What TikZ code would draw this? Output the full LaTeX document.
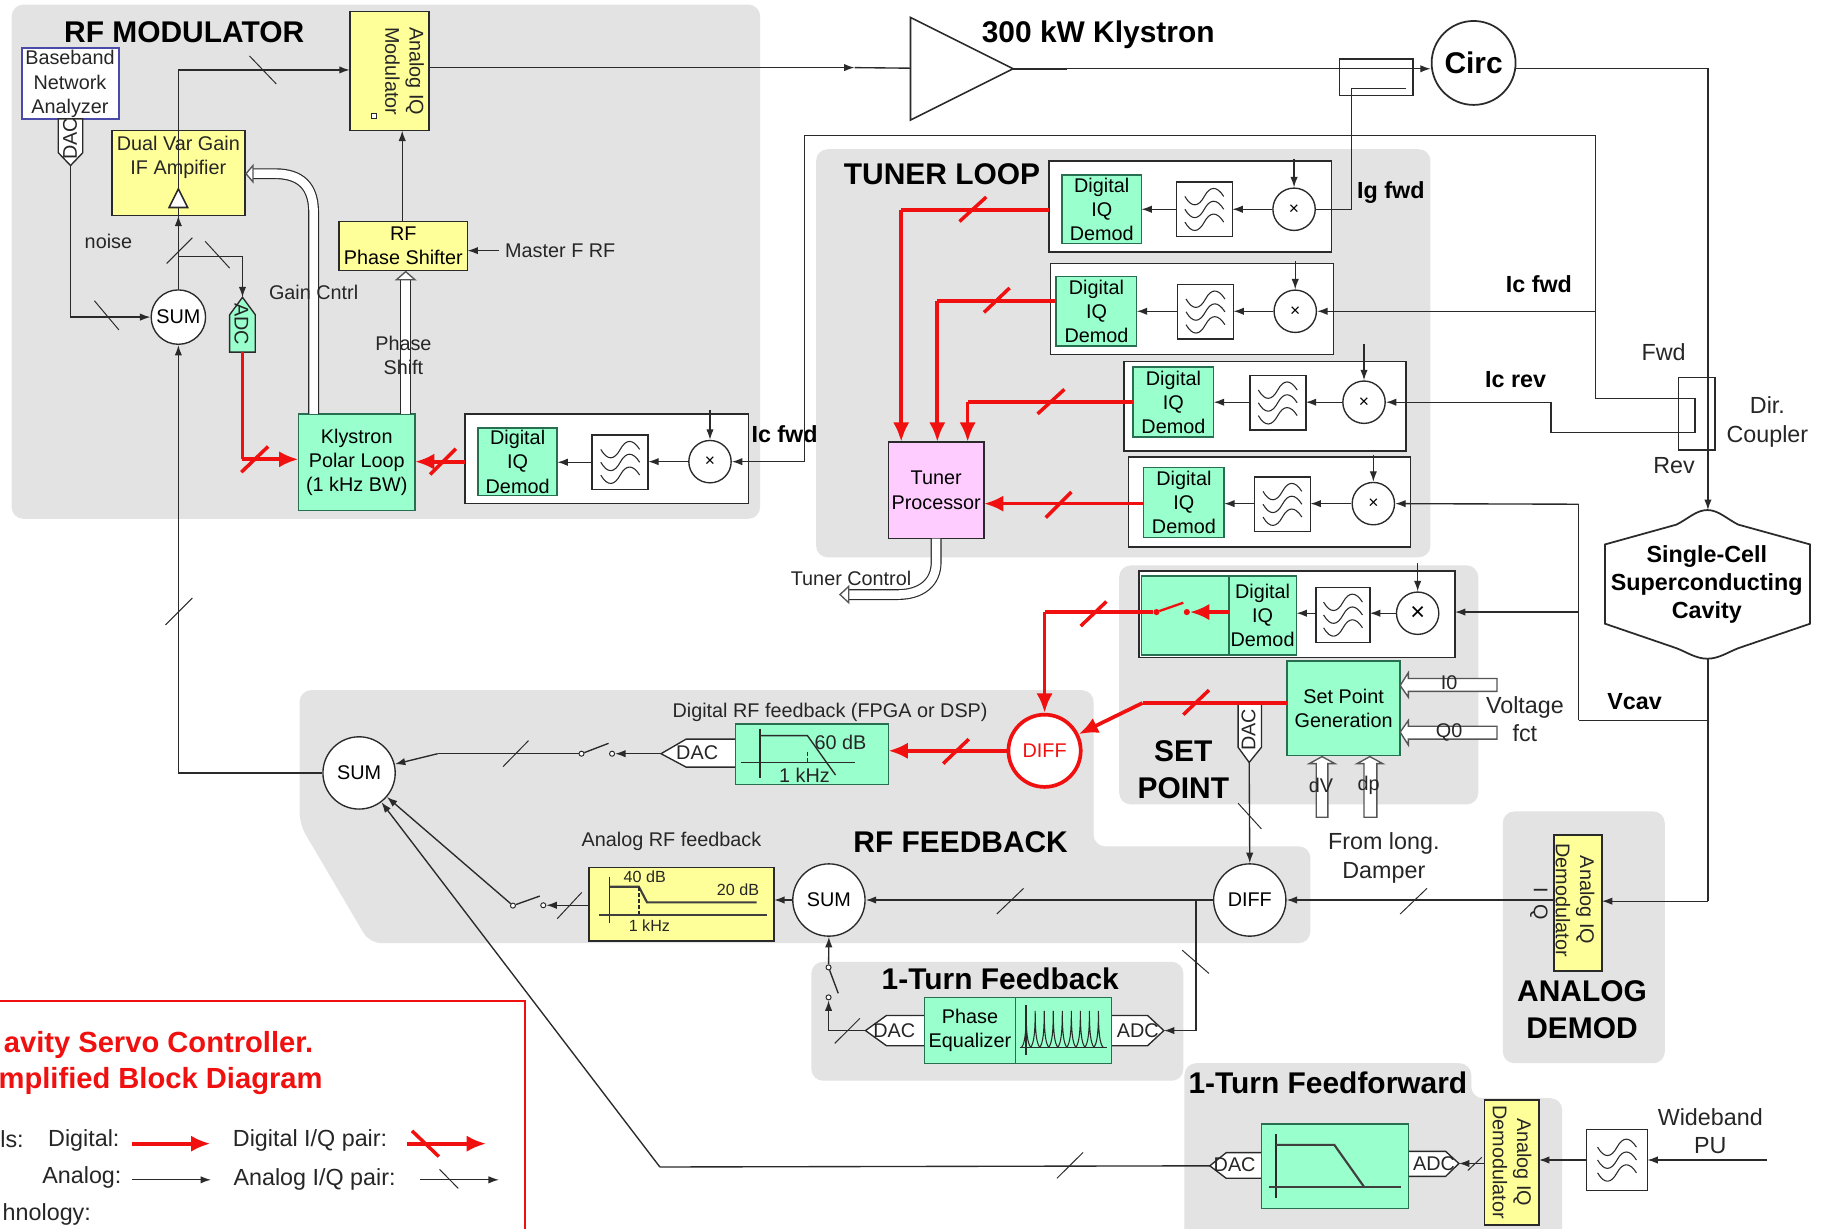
\documentclass[tikz,border=0pt]{standalone}
\usepackage{fontspec}
\setmainfont{Liberation Sans}
\usetikzlibrary{arrows.meta}
\definecolor{lc}{HTML}{2A2A2A}
\definecolor{rgn}{HTML}{E3E3E3}
\definecolor{gbx}{HTML}{99FFCC}
\definecolor{ybx}{HTML}{FFFF99}
\definecolor{pbx}{HTML}{FFCCFF}
\definecolor{rd}{HTML}{F01010}
\definecolor{bbl}{HTML}{4A4AA8}
\newcommand\blockbox[7][]{%
  \pgfmathsetmacro\bbcx{(#3+#5)/2}\pgfmathsetmacro\bbcy{(#4+#6)/2}%
  \pgfmathsetmacro\bbw{(#5-#3)*0.6}\pgfmathsetmacro\bbh{(#6-#4)*0.6}%
  \node[blk,#1,minimum width=\bbw pt,minimum height=\bbh pt] (#2) at (\bbcx,\bbcy) {#7};}
\tikzset{
  region/.style={fill=rgn,draw=none,rounded corners=6pt},
  blk/.style={rectangle,draw=lc,line width=.8pt,inner sep=0pt,outer sep=0pt,align=center,
    font=\fontsize{10.2}{12.5}\selectfont},
  grn/.style={fill=gbx,draw={rgb,255:red,40;green,110;blue,80}},
  yel/.style={fill=ybx},
  whitebox/.style={fill=white},
  txt/.style={inner sep=0pt,align=center,text=black!85,font=\fontsize{10.2}{12.5}\selectfont},
  small/.style={inner sep=0pt,align=center,text=black!85,font=\fontsize{8.3}{10}\selectfont},
  hd/.style={inner sep=0pt,align=center,text=black,font=\fontsize{15.4}{19}\selectfont\bfseries},
  lab/.style={inner sep=0pt,align=center,text=black,font=\fontsize{12}{14.5}\selectfont\bfseries},
  legt/.style={inner sep=0pt,align=center,text=black!85,font=\fontsize{12}{14.5}\selectfont},
  ln/.style={draw=lc,line width=.7pt},
  cn/.style={ln,-{Latex[length=5.4pt,width=3.8pt]}},
  rln/.style={draw=rd,line width=1.9pt},
  rcn/.style={rln,-{Latex[length=10pt,width=8.4pt]}},
  tick/.style={draw=lc,line width=.5pt},
  rtick/.style={draw=rd,line width=1.8pt},
  mix/.style={circle,draw=lc,line width=.7pt,fill=white,inner sep=0pt,minimum size=21.8pt,
    font=\fontsize{9}{9}\selectfont},
  sumc/.style={circle,draw=lc,line width=.7pt,fill=white,inner sep=0pt,minimum size=37.2pt,
    font=\fontsize{10.2}{12}\selectfont},
  swdot/.style={circle,draw=lc,line width=.5pt,fill=white,inner sep=0pt,minimum size=2.6pt},
  filt/.style={blk,fill=white,path picture={
    \begin{scope}[shift={(path picture bounding box.center)}]
    \foreach \wv in {-6.6,0,6.6}{
      \draw[lc,line width=.55pt]
        (-10pt,\wv pt) .. controls +(3.5pt,-6pt) and +(-3pt,-5.5pt) .. (0pt,\wv pt)
        .. controls +(3pt,5.5pt) and +(-3.5pt,5.5pt) .. (10pt,\wv pt);}
    \end{scope}}},
  conv/.style={draw=lc,line width=.7pt,fill=white},
  hollow/.style={draw=lc!80,line width=.7pt,fill=white},
  dbl/.style={draw=lc,line width=.6pt,double=white,double distance=4.4pt},
  graphln/.style={draw=lc,line width=.7pt},
  graphth/.style={draw=lc!90,line width=1.1pt}
}
\begin{document}
\begin{tikzpicture}[x=0.6pt,y=-0.6pt]
\useasboundingbox (0,0) rectangle (1568,1054);
\clip (0,0) rectangle (1568,1054);
\fill[white] (0,0) rectangle (1568,1054);

% ---------- regions
\path[region] (10,4) rectangle (652,445);
\path[region] (700,128) rectangle (1227,478);
\path[region] (960,485) rectangle (1268,690);
\path[region] (257,592) -- (938,592) -- (938,726) -- (1124,726) -- (1124,809) -- (317,809) -- (257,707) -- cycle;
\path[region] (1289,696) rectangle (1428,912);
\path[region] (696,825) rectangle (1015,927);
\path[region] (1016,912) -- (1262,912) -- (1262,942) -- (1340,942) -- (1340,1070) -- (1016,1070) -- cycle;

% ---------- headings
\node[hd] (hMod) at (158,28) {RF MODULATOR};
\node[hd] (hKly) at (942,30) {300 kW Klystron};
\node[hd] (hTun) at (808,149) {TUNER LOOP};
\node[hd] (hSet) at (1015,660) {SET\\POINT};
\node[hd] (hFb) at (824,722) {RF FEEDBACK};
\node[hd] (hDem) at (1357,866) {ANALOG\\DEMOD};
\node[hd] (hOne) at (858,840) {1-Turn Feedback};
\node[hd] (hFf) at (1139,929) {1-Turn Feedforward};

% ---------- RF modulator blocks
\blockbox[yel]{iqmod}{300}{10}{368}{112}{}
\node[txt,rotate=-90] (iqmodt) at (347,61) {Analog IQ\\Modulator};
\draw[lc,line width=.5pt,fill=white] (319,97) rectangle (323,102);
\blockbox[whitebox,draw=bbl]{bna}{19}{41}{102}{102}{}
\node[txt] (bnat) at (60,72) {Baseband\\Network\\Analyzer};
\draw[conv] (50,102) -- (71,102) -- (71,131) -- (60.5,142) -- (50,131) -- cycle;
\node[txt,rotate=90] (dac1t) at (60,119) {DAC};
\coordinate (dac1) at (60.5,142);
\blockbox[yel]{ifamp}{96}{112}{210}{185}{}
\node[txt] (ifampt) at (153,135) {Dual Var Gain\\IF Ampifier};
\node[sumc,minimum size=28pt] (sum1) at (153,272) {SUM};
\draw[draw=lc,line width=.7pt,fill=gbx] (197,302) -- (197,270) -- (208,255) -- (219,270) -- (219,302) -- cycle;
\node[txt,rotate=-90] (adc1t) at (207,278) {ADC};
\coordinate (adc1top) at (208,255);
\coordinate (adc1bot) at (208,302);
\blockbox[yel]{rfps}{291}{190}{401}{232}{RF\\Phase Shifter}
\node[txt,anchor=west] (master) at (433,215) {Master F RF};
\coordinate (masterin) at (428,215);
\blockbox[grn]{polar}{256}{355}{356}{438}{Klystron\\Polar Loop\\(1 kHz BW)}
\blockbox[whitebox]{box0}{399}{355}{642}{432}{}
\blockbox[grn]{dem0}{410}{367}{478}{425}{Digital\\IQ\\Demod}
\blockbox[filt]{fil0}{508}{373}{556}{420}{}
\node[mix] (mix0) at (609,396) {×};
\coordinate (lo0) at (609,352);

% ---------- tuner loop blocks
\blockbox[whitebox]{box1}{900}{138}{1142}{216}{}
\blockbox[grn]{dem1}{911}{150}{979}{209}{Digital\\IQ\\Demod}
\blockbox[filt]{fil1}{1009}{156}{1057}{203}{}
\node[mix] (mix1) at (1110,179.5) {×};
\coordinate (lo1) at (1110,136);
\blockbox[whitebox]{box2}{901}{226}{1144}{304}{}
\blockbox[grn]{dem2}{906}{237}{975}{297}{Digital\\IQ\\Demod}
\blockbox[filt]{fil2}{1010}{244}{1058}{291}{}
\node[mix] (mix2) at (1111,267) {×};
\coordinate (lo2) at (1111,224);
\blockbox[whitebox]{box3}{964}{310}{1206}{387}{}
\blockbox[grn]{dem3}{972}{315}{1041}{375}{Digital\\IQ\\Demod}
\blockbox[filt]{fil3}{1072}{322}{1120}{369}{}
\node[mix] (mix3) at (1170,345) {×};
\coordinate (lo3) at (1170,295);
\blockbox[whitebox]{box4}{968}{392}{1210}{469}{}
\blockbox[grn]{dem4}{981}{401}{1050}{461}{Digital\\IQ\\Demod}
\blockbox[filt]{fil4}{1076}{409}{1124}{456}{}
\node[mix] (mix4) at (1178,432) {×};
\coordinate (lo4) at (1178,390);
\blockbox[fill=pbx]{tuner}{762}{379}{844}{462}{Tuner\\Processor}

% ---------- set point blocks
\blockbox[whitebox]{box5}{977}{490}{1248}{564}{}
\blockbox[grn]{spsw}{979}{494}{1054}{562}{}
\blockbox[grn]{dem5}{1054}{494}{1112}{562}{Digital\\IQ\\Demod}
\blockbox[filt]{fil5}{1129}{504}{1175}{551}{}
\node[mix,font=\fontsize{13}{13}\selectfont] (mix5) at (1216,526) {×};
\coordinate (lo5) at (1216,483);
\blockbox[grn]{spg}{1104}{567}{1201}{648}{Set Point\\Generation}
\draw[conv] (1062,604) -- (1082,604) -- (1082,641) -- (1071.5,654) -- (1062,641) -- cycle;
\node[txt,rotate=90] (dac2t) at (1071,626) {DAC};
\coordinate (dac2) at (1071.5,654);
\draw[hollow] (1201,588) -- (1208,577) -- (1208,582) -- (1284,582) -- (1284,593) -- (1208,593) -- (1208,598) -- cycle;
\draw[hollow] (1201,628) -- (1208,618) -- (1208,623) -- (1284,623) -- (1284,634) -- (1208,634) -- (1208,639) -- cycle;
\draw[hollow] (1134,649) -- (1145,655) -- (1139,655) -- (1139,701) -- (1129,701) -- (1129,655) -- (1123,655) -- cycle;
\draw[hollow] (1175,649) -- (1186,655) -- (1181,655) -- (1181,701) -- (1170,701) -- (1170,655) -- (1164,655) -- cycle;
\node[txt] (i0) at (1243,586) {I0};
\node[txt] (q0) at (1243,628) {Q0};
\node[txt] (dv) at (1133,674) {dV};
\node[txt] (dp) at (1174,674) {dp};

% ---------- feedback blocks
\node[sumc] (sum2) at (308,663) {SUM};
\node[sumc] (sum3) at (711,772) {SUM};
\node[sumc] (diff2) at (1072,772) {DIFF};
\node[sumc,draw=rd,line width=1.9pt,text=rd] (diffr) at (896,644) {DIFF};
\draw[conv] (631,634) -- (588.5,634) -- (567,646.5) -- (588.5,658) -- (631,658);
\node[txt] (dac3t) at (598,646) {DAC};
\coordinate (dac3) at (567,646.5);
\blockbox[grn]{gfb}{631}{621}{762}{673}{}
\draw[graphln] (652,625) -- (652,667.6);
\draw[graphln] (635.7,654) -- (733,654);
\draw[graphln] (652,631) -- (692.6,631) -- (716.7,664.8);
\draw[graphln,dashed,dash pattern=on 2pt off 1pt] (692.6,645) -- (692.6,654);
\node[txt] (db60) at (721,637) {60 dB};
\node[txt] (khz1) at (690,665) {1 kHz};
\node[txt] (dfbt) at (712,611) {Digital RF feedback (FPGA or DSP)};
\node[txt] (afbt) at (576,722) {Analog RF feedback};
\blockbox[yel]{yfb}{505}{744}{664}{807}{}
\draw[graphln] (523,752) -- (523,792);
\draw[graphth] (514,785) -- (657.6,785);
\draw[graphth] (523,760.6) -- (548,760.6) -- (555,774) -- (649,774);
\draw[graphln,dashed,dash pattern=on 2pt off 1pt] (548,761) -- (548,785);
\node[small] (db40) at (553,752) {40 dB};
\node[small] (db20) at (633,763) {20 dB};
\node[small] (khz2) at (557,794) {1 kHz};

% ---------- 1-turn feedback blocks
\draw[conv] (793,871) -- (760.4,871) -- (742.4,884) -- (760.4,897) -- (793,897);
\node[txt] (dac4t) at (767,884) {DAC};
\coordinate (dac4) at (742.4,884);
\draw[conv] (953,871) -- (984.3,871) -- (998.3,884) -- (984.3,897) -- (953,897);
\node[txt] (adc4t) at (976,884) {ADC};
\coordinate (adc4) at (998.3,884);
\blockbox[grn]{peq}{793}{855.5}{871}{912.4}{Phase\\Equalizer}
\blockbox[grn]{comb}{871}{855.5}{953.4}{912.4}{}
\draw[graphln] (880.2,862) -- (880.2,905);
\draw[graphln] (874.6,898.4) -- (949.4,898.4);
\foreach \k in {0,...,8}{
  \pgfmathsetmacro\cx{880.2+7.75*\k}
  \draw[lc,line width=.55pt] (\cx-4,898.4) .. controls (\cx-1,895) and (\cx,885) .. (\cx,867) .. controls (\cx,885) and (\cx+1,895) .. (\cx+4,898.4);
}

% ---------- 1-turn feedforward blocks
\draw[conv] (1082,988.7) -- (1051.8,988.7) -- (1037.7,1000) -- (1051.8,1010.7) -- (1082,1010.7);
\node[txt] (dac5t) at (1059,999) {DAC};
\coordinate (dac5) at (1037.7,1000);
\draw[conv] (1208,987.6) -- (1240,987.6) -- (1251.4,998) -- (1240,1009) -- (1208,1009);
\node[txt] (adc5t) at (1230,998) {ADC};
\coordinate (adc5) at (1251.4,998);
\blockbox[grn]{ffb}{1082}{964}{1208}{1036.5}{}
\draw[graphln] (1094.5,972.7) -- (1094.5,1028);
\draw[graphth] (1088.3,1018) -- (1202,1018);
\draw[graphth] (1094.5,982) -- (1144.5,982) -- (1170,1018);
\blockbox[yel]{iqd2}{1273.3}{943.6}{1320}{1050.8}{}
\node[txt,rotate=-90] (iqd2t) at (1297,997) {Analog IQ\\Demodulator};
\blockbox[filt]{fil6}{1361}{969}{1413}{1021}{}
\node[legt] (wpu) at (1467,970) {Wideband\\PU};
\coordinate (pu) at (1516,995);

% ---------- analog demod
\blockbox[yel]{iqd1}{1333}{716}{1374}{833}{}
\node[txt,rotate=-90] (iqd1t) at (1351,772) {Analog IQ\\Demodulator};
\node[txt,rotate=-90] (iq) at (1320,775) {I\hspace{6pt}Q};

% ---------- klystron, circulator, couplers, cavity
\draw[lc,line width=.8pt,fill=white] (781,15) -- (869,59) -- (781,103) -- cycle;
\coordinate (klyin) at (781,58.5);
\coordinate (klyout) at (869,59);
\node[circle,draw=lc,line width=.9pt,fill=white,inner sep=0pt,minimum size=43.2pt,
  font=\fontsize{15.4}{18}\selectfont\bfseries] (circ) at (1264,54) {Circ};
\draw[lc,line width=.7pt,fill=white] (1149,50.5) rectangle (1212,82);
\draw[lc,line width=.7pt] (1440,324) rectangle (1471,386);
\draw[lc,line width=.9pt,fill=white] (1376.7,467) -- (1438,450)
  .. controls (1448,445) and (1455,437.5) .. (1464.5,437.5)
  .. controls (1474,437.5) and (1481,445) .. (1491,450) -- (1552.6,467) -- (1552.6,535) -- (1491,556)
  .. controls (1481,560) and (1474,565) .. (1464.5,565)
  .. controls (1455,565) and (1448,560) .. (1438,556) -- (1376.7,535) -- cycle;
\node[inner sep=0pt,align=center,font=\fontsize{12}{14.4}\selectfont\bfseries] (cav) at (1464,501) {Single-Cell\\Superconducting\\Cavity};
\coordinate (cavtop) at (1465,437.5);
\coordinate (cavbot) at (1465,565);

% ---------- hollow control arrows
\draw[dbl] (269,355) -- (269,182) .. controls (269,160) and (258,149) .. (236,149) -- (217,149);
\draw[hollow] (211,149) -- (217,142) -- (217,156) -- cycle;
\draw[dbl] (348,355) -- (348,240);
\draw[hollow] (348,233) -- (356,240) -- (340,240) -- cycle;
\draw[dbl] (803,462) -- (803,482) .. controls (803,500) and (790,510) .. (770,510) -- (728,510);
\draw[hollow] (720.5,510) -- (728,503) -- (728,517) -- cycle;

% ---------- text labels
\node[txt] (noise) at (93,207) {noise};
\node[txt] (gain) at (269,251) {Gain Cntrl};
\node[txt] (phs) at (346,305) {Phase\\Shift};
\node[lab] (lIg) at (1193,165) {Ig fwd};
\node[lab] (lIc1) at (1320,244) {Ic fwd};
\node[lab] (lIr) at (1300,326) {Ic rev};
\node[lab] (lIc2) at (673,372) {Ic fwd};
\node[lab] (lV) at (1402,602) {Vcav};
\node[legt] (fwd) at (1427,302) {Fwd};
\node[legt] (rev) at (1436,399) {Rev};
\node[legt] (dir) at (1516,362) {Dir.\\Coupler};
\node[legt] (volt) at (1308,617) {Voltage\\fct};
\node[legt] (long) at (1187,736) {From long.\\Damper};
\node[txt] (tctl) at (730,496) {Tuner Control};

% ---------- analog connectors
\coordinate (b1) at (153,220);
\coordinate (tri) at (153,162);
\coordinate (rf) at (153,60);
\draw[cn] (sum1.north) -- (ifamp.south);
\draw[ln] (153,186) -- (tri);
\draw[lc,line width=.8pt,fill=white] (145,178) -- (161,178) -- (153,162) -- cycle;
\draw[cn] (tri) -- (rf) -- (rf -| iqmod.west);
\draw[cn] (b1) -| (adc1top);
\draw[cn] (dac1) |- (sum1.west);
\draw[cn] (sum2.west) -| (sum1.south);
\draw[cn] (rfps.north -| 345,190) -- (345,112);
\draw[cn] (masterin) -- (masterin -| rfps.east);
\coordinate (kin) at (733,58);
\draw[cn] (368,58) -- (kin);
\draw[ln] (kin) -- (klyin);
\draw[draw=lc,line width=1.1pt] (klyout) -- (915,59);
\draw[cn] (915,59) -- (klyout -| circ.west);
\coordinate (cpl) at (1465,59);
\draw[cn] (circ.east |- klyout) -- (cpl) -- (cavtop);
\draw[ln] (cavbot) -- (1465,773);
\draw[cn] (1465,773) -- (iqd1.east |- 0,773);
\draw[ln] (1354,618) -- (1465,618);
\draw[ln] (1354,432.5) -- (1354,618);

\draw[cn] (mix0.west) -- (mix0.west -| fil0.east);
\draw[cn] (fil0.west) -- (fil0.west -| dem0.east);
\draw[cn] (lo0) -- (mix0.north);
\draw[cn] (mix1.west) -- (mix1.west -| fil1.east);
\draw[cn] (mix1.west -| fil1.west) -- (mix1.west -| dem1.east);
\draw[cn] (lo1) -- (mix1.north);
\draw[cn] (mix2.west) -- (mix2.west -| fil2.east);
\draw[cn] (mix2.west -| fil2.west) -- (mix2.west -| dem2.east);
\draw[cn] (lo2) -- (mix2.north);
\draw[cn] (mix3.west) -- (mix3.west -| fil3.east);
\draw[cn] (mix3.west -| fil3.west) -- (mix3.west -| dem3.east);
\draw[cn] (lo3) -- (mix3.north);
\draw[cn] (mix4.west) -- (mix4.west -| fil4.east);
\draw[cn] (mix4.west -| fil4.west) -- (mix4.west -| dem4.east);
\draw[cn] (lo4) -- (mix4.north);
\draw[cn] (mix5.west) -- (mix5.west -| fil5.east);
\draw[cn] (mix5.west -| fil5.west) -- (mix5.west -| dem5.east);
\draw[cn] (lo5) -- (mix5.north);

% forward / reverse sample lines
\coordinate (fa) at (690,116);
\coordinate (fb) at (1368.7,116);
\coordinate (fc) at (1368.7,342);
\coordinate (fd) at (1454,342);
\coordinate (fe) at (1454,371);
\coordinate (ff) at (1330.4,371);
\coordinate (fg) at (1330.4,345);
\draw[cn] (fa) |- (mix0.east);
\draw[ln] (fa) -- (fb) -- (fc) -- (fd) -- (fe) -- (ff) -- (fg);
\draw[cn] (fg) -- (mix3.east);
\draw[cn] (fb |- mix2.east) -- (mix2.east);
\draw[ln] (1206,75.8) -- (1159.5,75.8) -- (1159.5,179.5) -- (mix1.east);
\draw[cn] (1354,432.5) -- (mix4.east);
\draw[cn] (1354,525) -- (box5.east |- 0,525);

% set point, feedback
\draw[cn] (dac2) -- (diff2.north);
\draw[cn] (iqd1.west |- diff2.east) -- (diff2.east);
\draw[cn] (diff2.west) -- (sum3.east);
\coordinate (tap) at (1026,772);
\draw[cn] (tap) |- (adc4);
\draw[cn] (sum3.west) -- (sum3.west -| yfb.east);
\node[swdot] (swa) at (440,776.8) {};
\node[swdot] (swb) at (466,776.5) {};
\draw[cn] (swb -| yfb.west) -- (swb);
\draw[ln] (swa) -- (463,768.6);
\draw[cn] (swa) -- (sum2);
\node[swdot] (swc) at (498.8,646.5) {};
\node[swdot] (swd) at (525,646.5) {};
\coordinate (bend) at (375.4,646.5);
\draw[cn] (dac3) -- (swd);
\draw[ln] (swc) -- (522,637.6);
\draw[ln] (swc) -- (bend);
\draw[cn] (bend) -- (sum2);
\node[swdot] (swe) at (710.7,829.8) {};
\node[swdot] (swf) at (710.7,855.5) {};
\coordinate (tc) at (710.7,884);
\draw[cn] (dac4) -- (tc) -- (swf);
\draw[ln] (swe) -- (719,852);
\draw[cn] (swe) -- (sum3.south);
\coordinate (fbend) at (566,1001);
\draw[ln] (dac5) -- (fbend);
\draw[cn] (fbend) -- (sum2);
\draw[cn] (iqd2.west |- adc5) -- (adc5);
\draw[cn] (fil6.west) -- (fil6.west -| iqd2.east);
\draw[cn] (pu) -- (fil6.east);

% ---------- red connectors
\coordinate (r0) at (208,394);
\draw[rln] (adc1bot) -- (r0);
\draw[rcn] (r0) -- (r0 -| polar.west);
\draw[rcn] (box0.west |- 0,396) -- (polar.east |- 0,396);
\coordinate (r1) at (773,180);
\draw[rln] (box1.west |- r1) -- (r1);
\draw[rcn] (r1) -- (r1 |- tuner.north);
\coordinate (r2) at (804,258);
\draw[rln] (dem2.west |- r2) -- (r2);
\draw[rcn] (r2) -- (r2 |- tuner.north);
\coordinate (r3) at (830,345);
\draw[rln] (dem3.west |- r3) -- (r3);
\draw[rcn] (r3) -- (r3 |- tuner.north);
\draw[rcn] (dem4.west |- 0,432) -- (tuner.east |- 0,432);
\node[swdot,draw=rd,fill=rd] (swg) at (992,525) {};
\node[swdot,draw=rd,fill=rd] (swh) at (1018,525) {};
\draw[rcn] (dem5.west |- swh) -- (swh);
\draw[draw=rd,line width=1.2pt] (swg) -- (1015,517);
\coordinate (r4) at (896,525);
\draw[rln] (swg) -- (r4);
\draw[rcn] (r4) -- (diffr.north);
\coordinate (r5) at (980,603);
\draw[rln] (spg.west |- r5) -- (r5);
\draw[rcn] (r5) -- (diffr);
\draw[rcn] (diffr.west) -- (diffr.west -| gfb.east);

% ---------- ticks
\draw[tick] (214,48) -- (237,72);
\draw[tick] (143,226) -- (165,204);
\draw[tick] (176,207) -- (197,230);
\draw[tick] (81,258) -- (102,283);
\draw[tick] (142,536) -- (165,513);
\draw[tick] (431.5,657.6) -- (453.3,635.3);
\draw[tick] (478,788) -- (499,765.5);
\draw[tick] (855,784) -- (878,762);
\draw[tick] (1201,784) -- (1224,762);
\draw[tick] (1014,815) -- (1037,835);
\draw[tick] (1062,689) -- (1082,711);
\draw[tick] (716,895) -- (737.6,873.5);
\draw[tick] (906.6,1010.7) -- (929,988.5);
\draw[tick] (1259,1004) -- (1271,992.7);
\draw[rtick] (207,405) -- (230,383);
\draw[rtick] (369,407) -- (391,385);
\draw[rtick] (823,190) -- (846,169);
\draw[rtick] (844,268) -- (866,247);
\draw[rtick] (890,355) -- (913,334);
\draw[rtick] (897,444) -- (919,422);
\draw[rtick] (927,537) -- (949,516);
\draw[rtick] (1015,613) -- (1037,592);
\draw[rtick] (809,655) -- (831,634);

% ---------- legend
\fill[white] (-5,859) rectangle (450.6,1060);
\draw[draw=rd,line width=1pt] (-5,859) -- (450.6,859) -- (450.6,1060);
\node[inner sep=0pt,anchor=east,text=rd,font=\fontsize{15}{18}\selectfont\bfseries] (ttl1) at (269,896) {avity Servo Controller.};
\node[inner sep=0pt,anchor=east,text=rd,font=\fontsize{15}{18}\selectfont\bfseries] (ttl2) at (277,927) {mplified Block Diagram};
\node[legt,anchor=west] (lg1) at (0,977) {ls:};
\node[legt,anchor=west] (lg2) at (41,978) {Digital:};
\node[legt,anchor=west] (lg3) at (36,1010) {Analog:};
\node[legt,anchor=west] (lg4) at (199.5,978) {Digital I/Q pair:};
\node[legt,anchor=west] (lg5) at (200,1012) {Analog I/Q pair:};
\node[legt,anchor=west] (lg6) at (2,1042) {hnology:};
\coordinate (a1) at (113,981); \coordinate (a2) at (180.5,981);
\coordinate (a3) at (349,981); \coordinate (a4) at (417,981);
\coordinate (a5) at (113,1012); \coordinate (a6) at (181,1012);
\coordinate (a7) at (360.5,1012); \coordinate (a8) at (428,1012);
\draw[rcn] (a1) -- (a2);
\draw[rcn] (a3) -- (a4);
\draw[rtick] (353.4,970) -- (376.4,992);
\draw[cn] (a5) -- (a6);
\draw[cn] (a7) -- (a8);
\draw[tick] (377,1003) -- (393,1019.3);
\end{tikzpicture}
\end{document}
